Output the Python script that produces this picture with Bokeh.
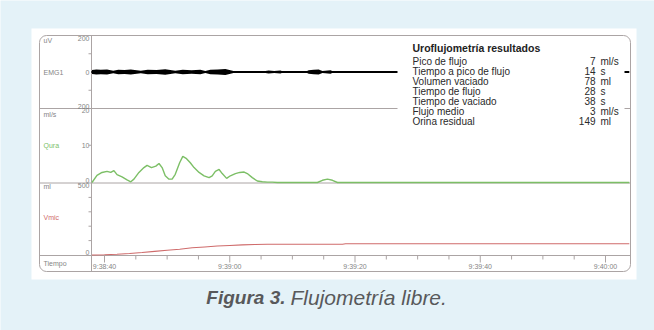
from bokeh.plotting import figure
from bokeh.models import Range1d
from bokeh.core.properties import value
from bokeh.embed import file_html
from bokeh.resources import INLINE

# ---------------- data ----------------
# time in seconds after 9:38:40
time_ticks = [0, 20, 40, 60, 80]
time_labels = ["9:38:40", "9:39:00", "9:39:20", "9:39:40", "9:40:00"]
minor_time_ticks = [5, 10, 15, 25, 30, 35, 45, 50, 55, 65, 70, 75]

flow_t = [-2.0, -1.2, -0.4, 0.4, 1.0, 1.5, 2.0, 2.8, 3.6, 4.2, 4.7, 5.5, 6.3, 6.8, 7.5,
          8.2, 8.7, 9.2, 9.7, 10.3, 10.8, 11.3, 12.0, 12.5, 13.1, 13.7, 14.3, 15.1,
          15.9, 16.7, 17.2, 17.7, 18.3, 18.8, 19.5, 20.1, 20.9, 21.6, 22.3, 22.8, 23.6,
          24.4, 25.2, 26.0, 26.8, 27.6, 34.0, 34.8, 35.6, 36.4, 37.2, 83.8]
flow_v = [0.0, 1.9, 2.7, 3.0, 2.7, 3.2, 2.1, 1.5, 0.7, 0.2, 0.9, 2.7, 4.0, 4.6, 4.0,
          4.4, 5.1, 4.0, 1.8, 0.9, 0.9, 2.2, 5.3, 7.0, 6.4, 5.3, 4.0, 2.7,
          1.8, 1.3, 1.8, 3.0, 3.5, 2.4, 1.1, 1.8, 2.4, 2.7, 2.8, 2.4, 1.3,
          0.4, 0.2, 0.1, 0.1, 0.0, 0.0, 0.6, 0.9, 0.6, 0.0, 0.0]

vol_t = [-2.0, 0, 2, 4, 6, 8, 10, 12, 14, 16, 18, 20, 22, 24, 26, 28, 38, 38.5, 83.8]
vol_v = [0, 2, 5, 10, 17, 25, 33, 40, 50, 56, 62, 66, 70, 73, 75, 75, 75, 78, 78]

emg_t = [-2.0, -1.3, -0.6, 0.4, 1.4, 2.2, 3.2, 4.2, 5.8, 6.9, 8.3, 9.7, 11.3, 12.5, 13.9,
         15.3, 16.1, 16.9, 18.1, 19.3, 20.6, 21.2, 22.0, 22.7, 25.2, 26.2, 27.1, 28.1,
         28.6, 32.1, 32.6, 33.4, 34.2, 34.8, 36.1, 36.6, 37.7, 38.2, 46.8]
emg_amp = [11, 14, 12, 14, 7, 13, 11, 14, 7, 13, 11, 15, 7, 13, 10,
           12, 6, 12, 14, 16, 6, 2, 6, 2, 3, 8, 6, 8,
           1, 1, 10, 13, 14, 6, 9, 1, 4, 1, 1]
emg_base_t = [-2.1, 83.8]
emg_base_v = [0, 0]

emg_ticks = [200, 0, -200]
emg_tick_labels = ["200", "0", "200"]
flow_ticks = [20, 10, 0]
flow_tick_labels = ["20", "10", "0"]
vol_ticks = [500, 0]
vol_tick_labels = ["500", "0"]
vol_minor = [100, 200, 300, 400]

res_title = "Uroflujometría resultados"
res_labels = ["Pico de flujo", "Tiempo a pico de flujo", "Volumen vaciado", "Tiempo de flujo",
              "Tiempo de vaciado", "Flujo medio", "Orina residual"]
res_values = ["7", "14", "78", "28", "38", "3", "149"]
res_units = ["ml/s", "s", "ml", "s", "s", "ml/s", "ml"]

# ---------------- layout (page pixels) ----------------
W, H = 654, 330
X0, Y0 = 0, 0
BG = "#e4f2f8"
GRID = "#aba4a4"
LBL = "#858585"
FONT = value("Liberation Sans")
GREEN = "#7cbf66"
RED = "#cf6b6b"


def make_range(p1, v1, p2, v2, a, b):
    s = (v2 - v1) / (p2 - p1)
    return Range1d(start=v1 + (a - p1) * s, end=v1 + (b - p1) * s)


p = figure(width=W, height=H, output_backend="svg", toolbar_location=None,
           x_range=Range1d(X0, X0 + W), y_range=Range1d(Y0 + H, Y0),
           min_border=0, background_fill_color=BG, border_fill_color=BG)
p.axis.visible = False
p.grid.visible = False
p.outline_line_color = None

# plot x: time -> px ; tick 0s at 104px, 80s at 605px
p.extra_x_ranges = {"time": make_range(104, 0, 605, 80, X0, X0 + W)}
p.extra_y_ranges = {
    "emg": make_range(35, 200, 108, -200, Y0 + H, Y0),
    "flow": make_range(107.5, 20, 182, 0, Y0 + H, Y0),
    "vol": make_range(182.5, 500, 254.5, 0, Y0 + H, Y0),
}

# white panel and box
p.quad(left=[31], right=[636], top=[28], bottom=[279], fill_color="white", line_color=None)
p.quad(left=[39], right=[630], top=[35], bottom=[271], fill_color=None, line_color=GRID,
       line_width=1, border_radius=7)
p.segment(x0=[91], x1=[91], y0=[35], y1=[271], line_color=GRID, line_width=1)
p.segment(x0=[39, 39, 39], x1=[630, 630, 630], y0=[108, 182.5, 255], y1=[108, 182.5, 255],
          line_color=GRID, line_width=1)

# EMG
emg_lo = [-a for a in emg_amp]
p.varea(x=emg_t, y1=emg_lo, y2=emg_amp, fill_color="black", x_range_name="time", y_range_name="emg")
p.line(emg_base_t, emg_base_v, line_color="black", line_width=1.8, x_range_name="time", y_range_name="emg")

# flow
p.line(flow_t, flow_v, line_color=GREEN, line_width=1.4, x_range_name="time", y_range_name="flow")
# volume
p.line(vol_t, vol_v, line_color=RED, line_width=1.1, x_range_name="time", y_range_name="vol")

# results box
p.quad(left=[397], right=[624], top=[37], bottom=[134], fill_color="white", line_color=None)
p.text(x=[412], y=[47.5], text=[res_title], text_font=FONT, text_font_style="bold",
       text_font_size="10.5px", text_color="#222222", text_baseline="middle")
ry = [60.5 + 10 * i for i in range(len(res_labels))]
p.text(x=[412] * len(ry), y=ry, text=res_labels, text_font=FONT, text_font_size="10px",
       text_color="#2a2a2a", text_baseline="middle")
p.text(x=[595] * len(ry), y=ry, text=res_values, text_font=FONT, text_font_size="10px",
       text_color="#2a2a2a", text_baseline="middle", text_align="right")
p.text(x=[600] * len(ry), y=ry, text=res_units, text_font=FONT, text_font_size="10px",
       text_color="#2a2a2a", text_baseline="middle")

# left column labels
p.text(x=[43, 43, 43, 43], y=[40, 72, 113.5, 186], text=["uV", "EMG1", "ml/s", "ml"],
       text_font=FONT, text_font_size="7px", text_color=LBL, text_baseline="middle")
p.text(x=[43], y=[145], text=["Qura"], text_font=FONT, text_font_size="7px",
       text_color=GREEN, text_baseline="middle")
p.text(x=[43], y=[217], text=["Vmic"], text_font=FONT, text_font_size="7px",
       text_color=RED, text_baseline="middle")
p.text(x=[43], y=[263], text=["Tiempo"], text_font=FONT, text_font_size="7px",
       text_color=LBL, text_baseline="middle")

# left axis tick labels
def ticklabels(vals, labs, rng):
    kw = dict(text_font=FONT, text_font_size="7px", text_color=LBL, text_align="right",
              y_range_name=rng)
    p.text(x=[89], y=[vals[0]], text=[labs[0]], text_baseline="top", **kw)
    if len(vals) > 2:
        p.text(x=[89], y=[vals[1]], text=[labs[1]], text_baseline="middle", **kw)
    p.text(x=[89], y=[vals[-1]], text=[labs[-1]], text_baseline="bottom", **kw)

ticklabels(emg_ticks, emg_tick_labels, "emg")
ticklabels(flow_ticks, flow_tick_labels, "flow")
ticklabels(vol_ticks, vol_tick_labels, "vol")

p.segment(x0=[88, 88], x1=[91, 91], y0=[100, -100], y1=[100, -100], line_color=GRID, y_range_name="emg")
p.segment(x0=[88], x1=[91], y0=[10], y1=[10], line_color=GRID, y_range_name="flow")
p.segment(x0=[88] * 4, x1=[91] * 4, y0=vol_minor, y1=vol_minor, line_color=GRID, y_range_name="vol")

# time axis
p.segment(x0=time_ticks, x1=time_ticks, y0=[255] * 5, y1=[262] * 5, line_color=GRID,
          x_range_name="time")
p.segment(x0=minor_time_ticks, x1=minor_time_ticks, y0=[255] * len(minor_time_ticks),
          y1=[259] * len(minor_time_ticks), line_color=GRID, x_range_name="time")
p.text(x=time_ticks, y=[266] * 5, text=time_labels, text_font=FONT, text_font_size="7px",
       text_color=LBL, text_align="center", text_baseline="middle", x_range_name="time")

# caption
p.text(x=[285], y=[297], text=["Figura 3."], text_font=FONT, text_font_style="bold italic",
       text_font_size="19px", text_color="#58595b", text_align="right", text_baseline="middle")
p.text(x=[290], y=[297], text=["Flujometría libre."], text_font=FONT, text_font_style="italic",
       text_font_size="21px", text_color="#58595b", text_align="left", text_baseline="middle")

html = file_html(p, INLINE)
html = html.replace("<body>", '<body style="background-color:%s;">' % BG, 1)
open("out.html", "w").write(html)
